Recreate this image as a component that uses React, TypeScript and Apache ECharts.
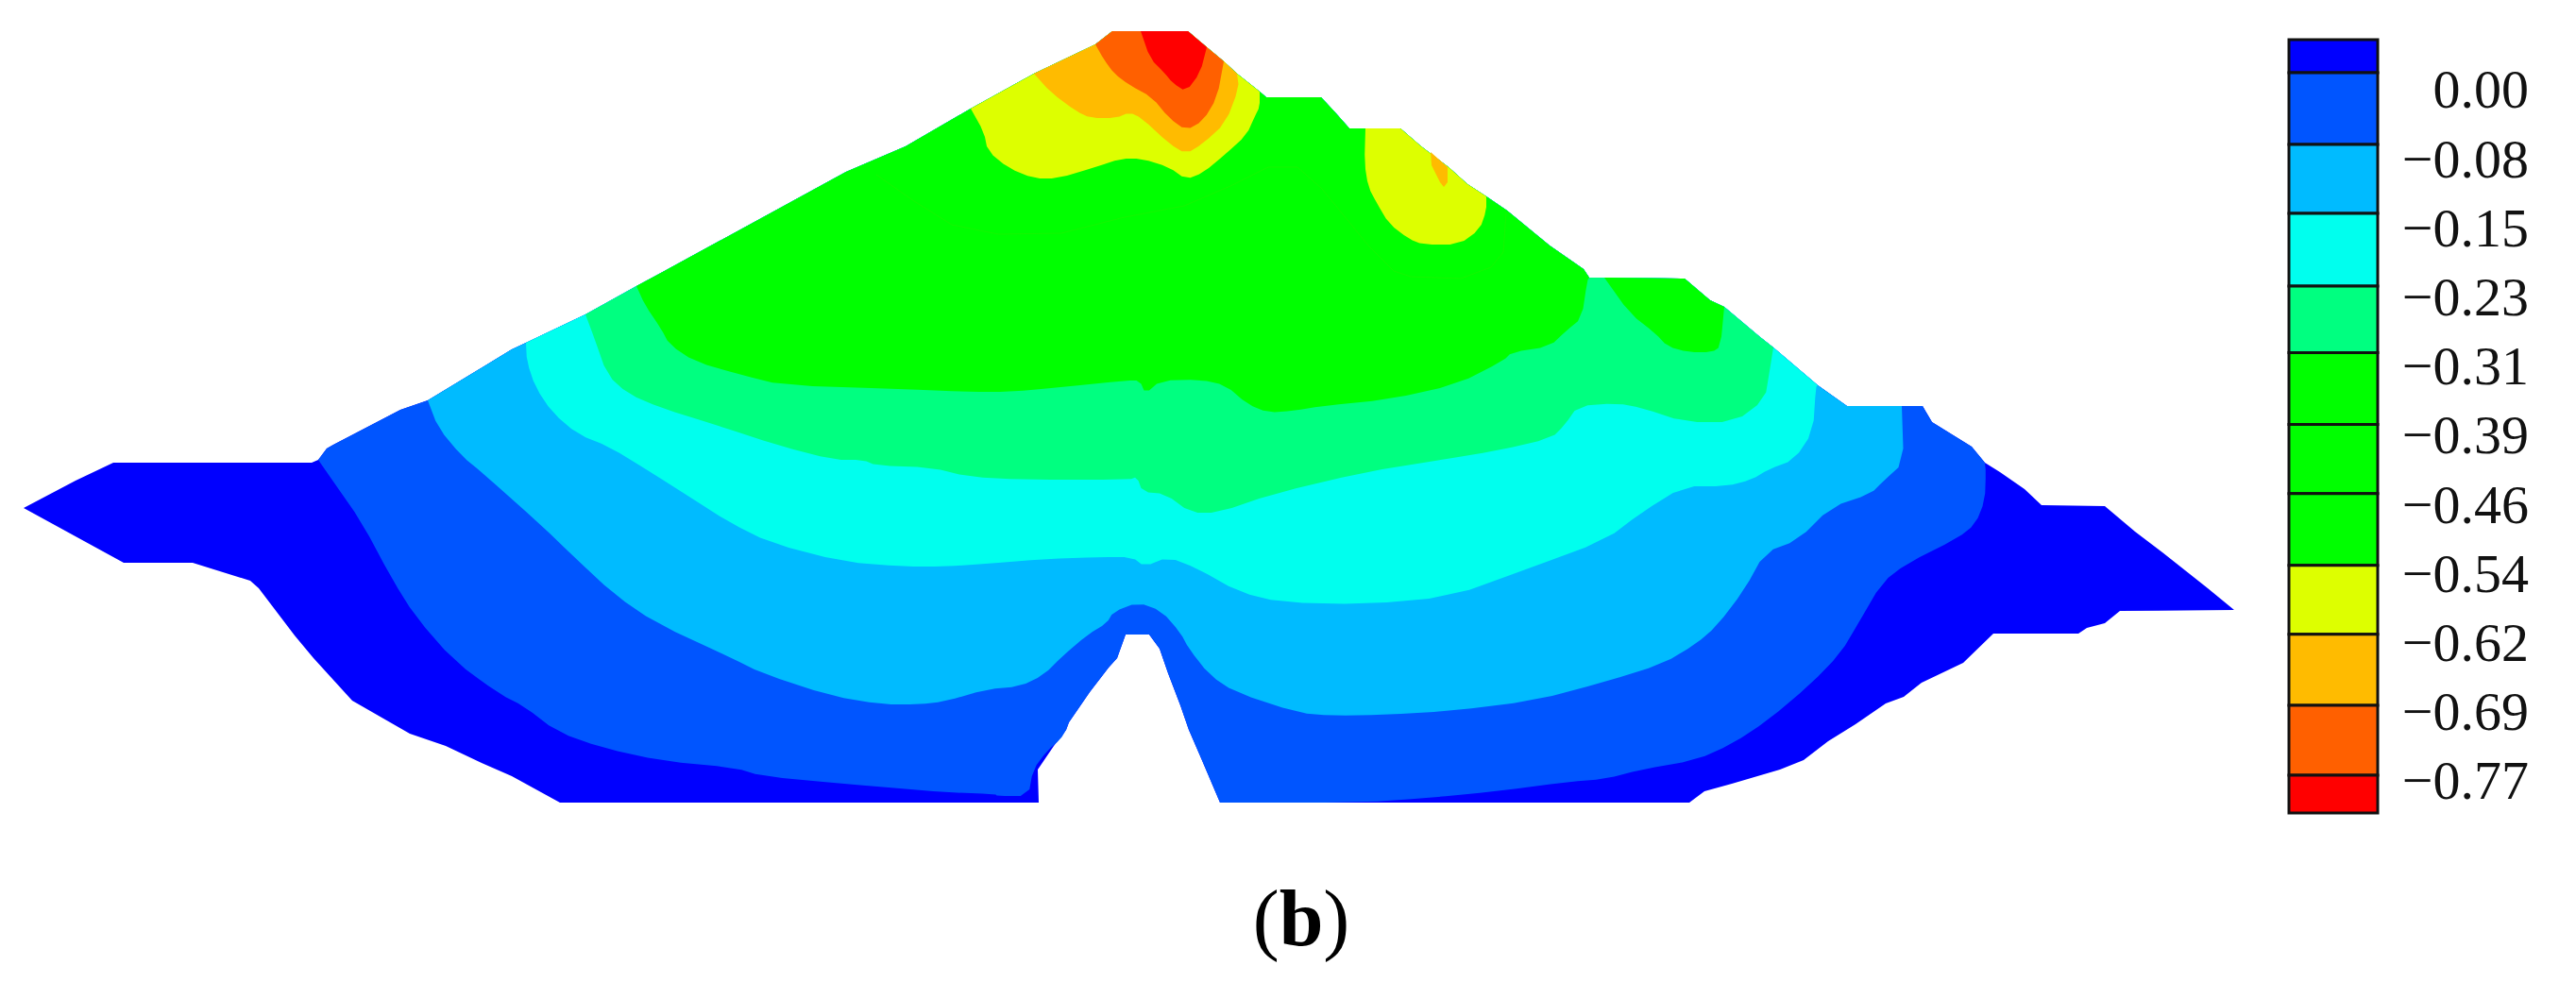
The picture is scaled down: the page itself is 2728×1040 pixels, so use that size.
import { useEffect, useRef } from "react";
import * as echarts from "echarts";

type Pt = [number, number];

const outline: Pt[] = [
  [25,538],[80,509],[120,490],[330,490],[337,487],[346,475],[353,471],[424,434],[453,424],[542,370],[557,363],[620,333],[674,303],[700,289],
  [896,182],[959,155],[1028,115],[1095,78],[1160,47],[1178,33],[1208,33],[1258,33],[1278,50],[1296,65],[1310,78],[1334,97],[1341,103],[1399,103],
  [1413,118],[1429,136],[1446,136],[1483,136],[1505,155],[1534,177],[1554,195],[1574,208],[1596,223],[1641,260],[1677,285],[1683,294],[1699,294],
  [1784,295],[1811,318],[1826,325],[1864,357],[1878,368],[1925,408],[1956,430],[2014,430],[2036,430],[2046,447],[2088,473],[2102,490],[2118,500],
  [2144,518],[2162,535],[2229,536],[2261,563],[2290,585],[2338,623],[2366,646],[2245,647],[2229,660],[2210,665],[2201,671],[2111,671],[2079,702],
  [2035,723],[2016,738],[1997,745],[1965,767],[1936,785],[1910,805],[1885,815],[1834,830],[1805,838],[1789,850],[1440,850],[1292,850],[1272,803],
  [1259,773],[1250,747],[1237,713],[1228,687],[1217,672],[1192,672],[1183,697],[1174,707],[1154,733],[1132,765],[1129,773],[1116,790],[1099,815],
  [1100,850],[593,850],[542,822],[510,808],[472,790],[434,777],[373,742],[332,697],[312,673],[274,623],[265,615],[204,596],[131,596],
];

const contour1Left: Pt[] = [
  [337,487],[353,510],[383,553],[415,613],[440,653],[481,700],[529,735],[555,748],[590,775],[638,792],[702,806],[778,813],[807,822],[893,830],
  [953,835],[1000,839],[1054,841],[1056,843],[1089,843],[1094,815],[1109,795],[1123,783],[1129,773],
];
const contour1Right: Pt[] = [
  [1292,850],[1440,850],[1513,845],[1585,838],[1661,828],[1700,825],[1738,815],[1796,805],[1834,788],[1872,763],[1917,725],[1949,692],[1968,660],
  [1993,617],[2019,597],[2073,570],[2092,555],[2102,530],[2103,500],[2102,490],
];
const contour2: Pt[] = [
  [453,424],[464,453],[489,483],[510,500],[574,557],[606,588],[651,630],[695,660],[775,697],[807,713],[880,737],[934,746],[973,746],[1000,743],
  [1045,730],[1080,727],[1105,715],[1125,695],[1152,672],[1172,660],[1179,648],[1205,638],[1230,647],[1250,670],[1259,687],[1281,715],[1308,733],
  [1375,755],[1411,758],[1466,757],[1536,753],[1625,742],[1700,722],[1761,703],[1796,682],[1818,663],[1847,625],[1869,585],[1904,572],[1939,537],
  [1981,523],[1994,510],[2016,490],[2014,430],
];
const contour3: Pt[] = [
  [557,363],[558,383],[567,410],[585,437],[612,460],[645,473],[689,500],[733,528],[772,553],[816,575],[893,595],[957,600],[1000,600],[1045,597],
  [1107,592],[1165,590],[1199,590],[1212,600],[1237,590],[1268,602],[1312,627],[1357,638],[1446,640],[1536,632],[1616,603],[1700,572],[1738,543],
  [1783,515],[1828,515],[1855,508],[1873,497],[1900,487],[1920,457],[1923,410],[1925,408],
];
const contour4: Pt[] = [
  [620,333],[629,357],[643,397],[665,417],[700,432],[758,450],[825,472],[883,487],[914,487],[928,493],[986,495],[1026,505],[1084,508],[1196,508],
  [1204,505],[1210,521],[1234,523],[1261,543],[1290,543],[1348,523],[1445,500],[1520,488],[1587,477],[1643,464],[1657,450],[1671,430],[1712,427],
  [1739,432],[1784,447],[1837,447],[1869,423],[1874,393],[1878,368],
];
const contour5: Pt[] = [
  [674,303],[683,323],[700,348],[709,365],[736,383],[785,397],[829,408],[954,412],[1026,415],[1070,415],[1124,410],[1193,403],[1207,403],[1213,417],
  [1229,403],[1271,402],[1298,408],[1321,428],[1343,437],[1370,435],[1400,430],[1471,423],[1543,407],[1592,382],[1601,373],[1641,367],[1659,350],
  [1675,337],[1681,297],[1683,294],
];
const contour5Island: Pt[] = [[1699,294],[1726,332],[1753,353],[1766,367],[1788,373],[1813,373],[1822,367],[1826,325]];
const contour6: Pt[] = [
  [1028,115],[1042,140],[1046,160],[1068,178],[1095,189],[1120,189],[1160,177],[1187,168],[1209,168],[1238,177],[1256,190],[1274,183],[1298,163],
  [1320,143],[1329,123],[1334,113],[1334,97],
];
const contour6Island: Pt[] = [
  [1446,136],[1445,173],[1449,198],[1458,215],[1471,237],[1492,253],[1507,259],[1545,259],[1567,243],[1574,223],[1574,208],
];
const contour7: Pt[] = [
  [1095,78],[1113,98],[1140,118],[1155,125],[1182,125],[1196,119],[1209,125],[1238,152],[1256,163],[1274,152],[1298,130],[1312,93],[1310,78],
];
const contour7Sliver: Pt[] = [[1515,161],[1516,175],[1525,193],[1529,198],[1533,193],[1533,177]];
const contour8: Pt[] = [
  [1160,47],[1169,63],[1180,78],[1196,90],[1220,103],[1238,125],[1256,138],[1274,128],[1289,103],[1296,65],
];
const contour9: Pt[] = [[1208,33],[1218,62],[1233,77],[1242,88],[1256,97],[1271,77],[1278,50]];
const faintContour: Pt[] = [
  [928,185],[968,213],[1008,238],[1057,248],[1124,247],[1191,230],[1254,218],[1303,197],[1343,177],[1374,177],[1400,200],[1427,233],[1449,260],
  [1476,287],[1494,293],[1547,295],[1579,283],[1592,267],[1595,225],
];

const bandColors = ["#0000FF", "#0055FF", "#00BBFF", "#00FFEE", "#00FF80", "#00FF00", "#00FF00", "#00FF00", "#DDFF00", "#FFBB00", "#FF6000", "#FF0000"];
const legendLabels = ["0.00", "\u22120.08", "\u22120.15", "\u22120.23", "\u22120.31", "\u22120.39", "\u22120.46", "\u22120.54", "\u22120.62", "\u22120.69", "\u22120.77"];
const legendValues = [0, -0.077, -0.154, -0.231, -0.308, -0.385, -0.462, -0.539, -0.616, -0.693, -0.77];
const legendEdges = [0.0557, 0.0189, -0.061, -0.138, -0.219, -0.293, -0.373, -0.45, -0.53, -0.607, -0.686, -0.764, -0.806];

function nearestOnOutline(p: Pt) {
  let best = 0;
  outline.forEach((q, i) => {
    if (Math.hypot(q[0] - p[0], q[1] - p[1]) < Math.hypot(outline[best][0] - p[0], outline[best][1] - p[1])) best = i;
  });
  return best;
}

// walks the section's outline between two points that lie on it
function along(a: Pt, b: Pt): Pt[] {
  const i = nearestOnOutline(a);
  const j = nearestOnOutline(b);
  return i < j ? outline.slice(i + 1, j) : outline.slice(j + 1, i).reverse();
}

// rounds the corners of a contour line, its two ends stay where they are
function soften(line: Pt[]): Pt[] {
  const out: Pt[] = [line[0]];
  for (let i = 0; i < line.length - 1; i++) {
    const [x0, y0] = line[i];
    const [x1, y1] = line[i + 1];
    out.push([x0 * 0.75 + x1 * 0.25, y0 * 0.75 + y1 * 0.25], [x0 * 0.25 + x1 * 0.75, y0 * 0.25 + y1 * 0.75]);
  }
  out.push(line[line.length - 1]);
  return out;
}

function closeOnOutline(parts: Pt[][]): Pt[] {
  return parts.flatMap((part, k) => [
    ...soften(part),
    ...along(part[part.length - 1], parts[(k + 1) % parts.length][0]),
  ]);
}

// painted in order, each one on top of the previous
const regions: { points: Pt[]; band: number }[] = [
  { points: outline, band: 0 },
  { points: closeOnOutline([contour1Left, contour1Right]), band: 1 },
  { points: closeOnOutline([contour2]), band: 2 },
  { points: closeOnOutline([contour3]), band: 3 },
  { points: closeOnOutline([contour4]), band: 4 },
  { points: closeOnOutline([contour5]), band: 5 },
  { points: closeOnOutline([contour5Island]), band: 5 },
  { points: closeOnOutline([contour6]), band: 8 },
  { points: closeOnOutline([contour6Island]), band: 8 },
  { points: closeOnOutline([contour7]), band: 9 },
  { points: contour7Sliver, band: 9 },
  { points: closeOnOutline([contour8]), band: 10 },
  { points: closeOnOutline([contour9]), band: 11 },
];

const serif = "'Liberation Serif', 'Times New Roman', serif";

function buildOption(): any {
  return {
    animation: false,
    backgroundColor: "#fff",
    title: {
      text: "{p|(}{b|b}{p|)}",
      left: 1373,
      top: 925,
      textAlign: "center",
      textStyle: {
        fontWeight: "normal",
        rich: {
          p: { fontFamily: serif, fontSize: 84, fontWeight: "normal", color: "#000" },
          b: { fontFamily: serif, fontSize: 84, fontWeight: "bold", color: "#000" },
        },
      },
    },
    grid: [
      { left: 0, top: 0, width: 2728, height: 1040 },
      { left: 2424, top: 42, width: 94, height: 819 },
    ],
    xAxis: [
      { type: "value", gridIndex: 0, min: 0, max: 2728, show: false },
      { type: "value", gridIndex: 1, min: 0, max: 1, show: false },
    ],
    yAxis: [
      { type: "value", gridIndex: 0, min: 0, max: 1040, inverse: true, show: false },
      {
        type: "value",
        gridIndex: 1,
        min: legendEdges[legendEdges.length - 1],
        max: legendEdges[0],
        position: "right",
        axisLine: { show: false },
        axisTick: { show: false },
        splitLine: { show: false },
        axisLabel: {
          customValues: legendValues,
          formatter: (v: number) => legendLabels[legendValues.indexOf(v)],
          align: "right",
          margin: 160,
          fontFamily: serif,
          fontSize: 58,
          color: "#111",
        },
      },
    ],
    series: [
      {
        type: "custom",
        xAxisIndex: 0,
        yAxisIndex: 0,
        clip: false,
        data: regions.map((_, i) => [i, 0]),
        renderItem: (_: any, api: any) => {
          const region = regions[api.value(0)];
          return {
            type: "polygon",
            shape: { points: region.points.map((p) => api.coord(p)) },
            style: { fill: bandColors[region.band] },
          };
        },
      },
      {
        type: "line",
        xAxisIndex: 0,
        yAxisIndex: 0,
        data: faintContour,
        symbol: "none",
        lineStyle: { color: "#22F000", width: 1, opacity: 0.6 },
      },
      {
        type: "custom",
        xAxisIndex: 1,
        yAxisIndex: 1,
        clip: false,
        data: bandColors.map((_, i) => [i, 0]),
        renderItem: (_: any, api: any) => {
          const i = api.value(0);
          const topLeft = api.coord([0, legendEdges[i]]);
          const bottomRight = api.coord([1, legendEdges[i + 1]]);
          return {
            type: "rect",
            shape: { x: topLeft[0], y: topLeft[1], width: bottomRight[0] - topLeft[0], height: bottomRight[1] - topLeft[1] },
            style: { fill: bandColors[i], stroke: "#111", lineWidth: 3 },
          };
        },
      },
    ],
  };
}

export default function App() {
  const ref = useRef<HTMLDivElement>(null);

  useEffect(() => {
    if (!ref.current) return;
    const chart = echarts.init(ref.current, undefined, { renderer: "svg" });
    chart.setOption(buildOption());
    return () => chart.dispose();
  }, []);

  return <div ref={ref} style={{ position: "fixed", left: 0, top: 0, width: 2728, height: 1040, background: "#fff" }} />;
}
